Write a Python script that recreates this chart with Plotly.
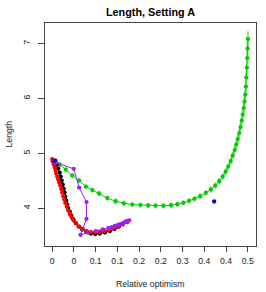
import plotly.graph_objects as go

# ---- data ----
green_x = [0.0069, 0.0173, 0.0312, 0.0462, 0.0619, 0.0773, 0.0923, 0.1080, 0.1269, 0.1459,
           0.1650, 0.1842, 0.2031, 0.2209, 0.2377, 0.2557, 0.2735, 0.2880, 0.3019, 0.3150,
           0.3273, 0.3404, 0.3536, 0.3651, 0.3750, 0.3843, 0.3923, 0.3993, 0.4050, 0.4108,
           0.4154, 0.4200, 0.4235, 0.4270, 0.4304, 0.4334, 0.4362, 0.4385, 0.4408, 0.4427,
           0.4443, 0.4457, 0.4468, 0.4480, 0.4489, 0.4496, 0.4505]
green_y = [4.858, 4.794, 4.703, 4.593, 4.502, 4.392, 4.328, 4.265, 4.182, 4.124,
           4.086, 4.064, 4.055, 4.046, 4.042, 4.040, 4.051, 4.069, 4.095, 4.131,
           4.168, 4.215, 4.277, 4.338, 4.411, 4.489, 4.575, 4.666, 4.757, 4.858,
           4.958, 5.058, 5.159, 5.259, 5.369, 5.478, 5.597, 5.706, 5.825, 5.943,
           6.071, 6.217, 6.381, 6.564, 6.737, 6.911, 7.088]
green_err = [0.05, 0.05, 0.05, 0.05, 0.05, 0.05, 0.05, 0.05, 0.05, 0.05,
             0.05, 0.05, 0.05, 0.05, 0.05, 0.05, 0.05, 0.05, 0.05, 0.05,
             0.05, 0.055, 0.055, 0.06, 0.06, 0.06, 0.065, 0.065, 0.07, 0.07,
             0.07, 0.075, 0.075, 0.08, 0.08, 0.085, 0.085, 0.09, 0.09, 0.095,
             0.10, 0.10, 0.11, 0.11, 0.12, 0.13, 0.14]

black_x = [0.0069, 0.0104, 0.0138, 0.0173, 0.0196, 0.0219, 0.0242, 0.0265, 0.0284, 0.0300,
           0.0323, 0.0346, 0.0369, 0.0404, 0.0438, 0.0485, 0.0542, 0.0612, 0.0692, 0.0785,
           0.0889, 0.0992, 0.1096, 0.1212, 0.1327, 0.1431, 0.1535]
black_y = [4.867, 4.794, 4.721, 4.648, 4.575, 4.502, 4.429, 4.356, 4.283, 4.210,
           4.137, 4.064, 4.000, 3.936, 3.864, 3.791, 3.726, 3.662, 3.608, 3.562,
           3.535, 3.526, 3.535, 3.553, 3.580, 3.617, 3.662]

red_x = [0.0000, 0.0012, 0.0035, 0.0058, 0.0081, 0.0092, 0.0115, 0.0138, 0.0162, 0.0185,
         0.0208, 0.0231, 0.0254, 0.0277, 0.0300, 0.0335, 0.0369, 0.0404, 0.0450, 0.0496,
         0.0554, 0.0623, 0.0704, 0.0796, 0.0889, 0.0992, 0.1096, 0.1200, 0.1304, 0.1408,
         0.1512, 0.1627, 0.1731]
red_y = [4.894, 4.849, 4.794, 4.739, 4.684, 4.630, 4.575, 4.520, 4.465, 4.411,
         4.347, 4.283, 4.219, 4.155, 4.091, 4.027, 3.953, 3.891, 3.827, 3.772,
         3.717, 3.662, 3.617, 3.580, 3.562, 3.553, 3.562, 3.580, 3.599, 3.626,
         3.653, 3.699, 3.745]

purple_x = [0.0092, 0.0496, 0.0619, 0.0789, 0.0789, 0.0651, 0.0819, 0.1004, 0.1165, 0.1292,
            0.1373, 0.1442, 0.1512, 0.1569, 0.1627, 0.1673, 0.1719, 0.1772]
purple_y = [4.830, 4.715, 4.374, 4.109, 3.803, 3.511, 3.553, 3.580, 3.608, 3.635,
            3.653, 3.672, 3.690, 3.708, 3.726, 3.745, 3.763, 3.776]

blue_x = [0.0050, 0.3727]
blue_y = [4.860, 4.119]

x_ticks = [0, 0.05, 0.10, 0.15, 0.20, 0.25, 0.30, 0.35, 0.40, 0.45]
x_tick_labels = ["0", "0", "0.1", "0.1", "0.2", "0.2", "0.3", "0.4", "0.4", "0.5"]
y_ticks = [4, 5, 6, 7]
y_tick_labels = ["4", "5", "6", "7"]

FONT = "Liberation Sans, Arial, sans-serif"

fig = go.Figure()


def add_series(x, y, color, errcolor, err, size=4.3, lines=True):
    fig.add_trace(go.Scatter(
        x=x, y=y, mode="lines+markers" if lines else "markers",
        line=dict(color=color, width=1),
        marker=dict(color=color, size=size),
        error_y=dict(type="data", array=err, visible=True, color=errcolor,
                     thickness=2, width=0),
        showlegend=False, hoverinfo="skip"))


add_series(green_x, green_y, "#00CC00", "#8FE88F", green_err)
add_series(black_x, black_y, "#000000", "#999999", [0.03 for _ in black_x])
add_series(red_x, red_y, "#FF0000", "#FF9A9A", [0.03 for _ in red_x])
add_series(purple_x, purple_y, "#A020F0", "#D49BF7", [0.03 for _ in purple_x])
add_series(blue_x, blue_y, "#0000FF", "#9999FF", [0.02 for _ in blue_x], lines=False)

W, H = 266, 292
L, R, T, B = 45, 10, 23, 46

fig.update_layout(
    width=W, height=H,
    margin=dict(l=L, r=R, t=T, b=B, pad=0),
    paper_bgcolor="white", plot_bgcolor="white",
    font=dict(family=FONT, size=8.7, color="#000000"),
    xaxis=dict(range=[-0.0166, 0.469], tickmode="array", tickvals=x_ticks,
               ticktext=x_tick_labels, showgrid=False, zeroline=False,
               showline=True, mirror=True, linecolor="#444444", linewidth=1,
               ticks="outside", ticklen=5, tickcolor="#444444", tickwidth=1,
               ticklabelstandoff=2,
               tickfont=dict(family=FONT, size=8.7, color="#222222")),
    yaxis=dict(range=[3.307, 7.378], tickmode="array", tickvals=y_ticks,
               ticktext=y_tick_labels, showgrid=False, zeroline=False,
               showline=True, mirror=True, linecolor="#444444", linewidth=1,
               ticks="outside", ticklen=6, tickcolor="#444444", tickwidth=1,
               tickangle=-90, ticklabelstandoff=5,
               tickfont=dict(family=FONT, size=8.7, color="#222222")),
    annotations=[
        dict(text="<b>Length, Setting A</b>", xref="paper", yref="paper",
             x=0.5, y=1, yanchor="middle", yshift=11, showarrow=False,
             font=dict(family=FONT, size=10.8, color="#000000")),
        dict(text="Relative optimism", xref="paper", yref="paper",
             x=0.5, y=0, yanchor="middle", yshift=-38, showarrow=False,
             font=dict(family=FONT, size=8.7, color="#222222")),
        dict(text="Length", xref="paper", yref="paper",
             x=0, y=0.5, xanchor="center", xshift=-37, textangle=-90,
             showarrow=False,
             font=dict(family=FONT, size=8.7, color="#222222")),
    ],
)

fig.write_html("out.html", config={"displayModeBar": False},
               post_script="document.body.style.margin='0';document.body.style.overflow='hidden';")
